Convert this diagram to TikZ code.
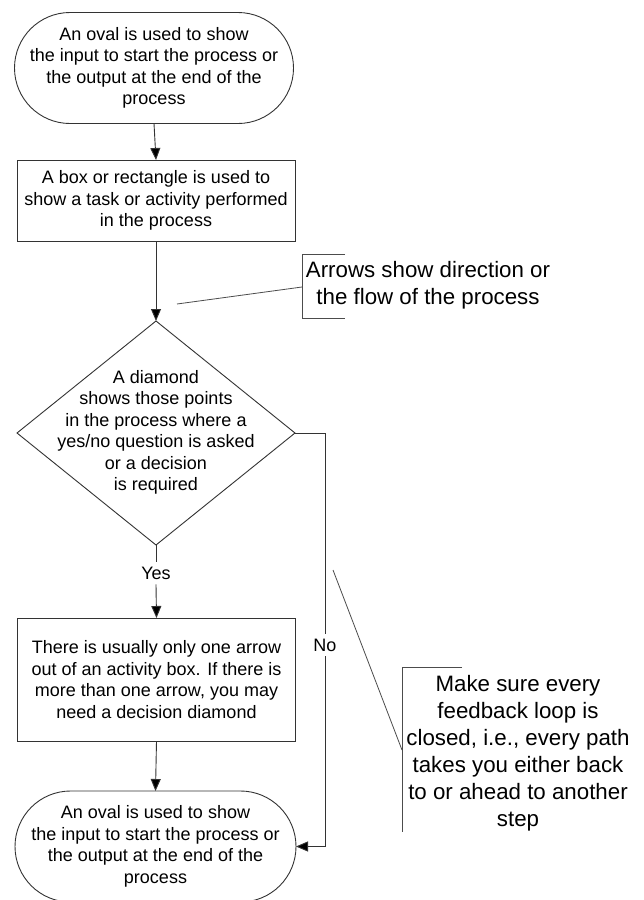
\documentclass[tikz,border=0pt]{standalone}
\usepackage{fontspec}
\setmainfont{Liberation Sans}
\usetikzlibrary{arrows.meta,shapes.misc,shapes.geometric}
\begin{document}
\begin{tikzpicture}[x=1pt,y=-1pt,
  line width=0.9pt,
  every node/.style={inner sep=0pt, outer sep=0pt},
  body/.style={font=\fontsize{18}{21.5}\selectfont, align=center},
  note/.style={font=\fontsize{22.3}{27}\selectfont, align=center},
  terminal/.style={draw=black!80, rounded rectangle, minimum width=279pt, minimum height=111pt},
  process/.style={draw=black!80, rectangle, minimum width=278pt},
  decision/.style={draw=black!80, diamond, minimum width=278pt, minimum height=224pt},
  flow/.style={draw=black!80, -{Triangle[length=12pt,width=10pt,fill=black]}},
  plain/.style={draw=black!80},
  tag/.style={body, fill=white, inner xsep=2pt, inner ysep=5pt},
  bracket/.style={draw=black!70, line width=0.8pt}
]
% page frame
\clip (0,0) rectangle (643,900);
\fill[white] (0,0) rectangle (643,900);

% flowchart symbols
\node[terminal] (o1) at (154,68) {};
\node[body] (o1t) at (o1.center) {An oval is used to show\\the input to start the process or\\the output at the end of the\\process};

\node[process, minimum height=81pt] (b1) at (156,200.5) {};
\node[body] (b1t) at (b1.center) {A box or rectangle is used to\\show a task or activity performed\\in the process};

\node[decision] (d) at (156,433) {};
\node[body] (dt) at (156,432.5) {A diamond\\shows those points\\in the process where a\\yes/no question is asked\\or a decision\\is required};

\node[process, minimum height=123pt] (b2) at (156.5,679.5) {};
\node[body] (b2t) at (b2.center) {There is usually only one arrow\\out of an activity box. If there is\\more than one arrow, you may\\need a decision diamond};

\node[terminal, minimum width=281pt] (o2) at (155.5,846.5) {};
\node[body] (o2t) at (o2.center) {An oval is used to show\\the input to start the process or\\the output at the end of the\\process};

% branch labels
\node[tag] (yes) at (156,573) {Yes};
\node[tag] (no) at (325,645) {No};

% connectors
\draw[flow] (o1.south) -- (b1.north);
\draw[flow] (b1.south) -- (d.north);
\draw[plain] (d.south) -- (yes.north);
\draw[flow] (yes.south) -- (b2.north);
\draw[flow] (b2.south) -- (o2.north);
\draw[plain] (d.east) -| (no.north);
\draw[flow] (no.south) |- (o2.east);

% annotation: arrows
\node[note] (n1) at (428,285.5) {Arrows show direction or\\the flow of the process};
\coordinate (n1a) at (345,254);
\coordinate (n1b) at (302,254);
\coordinate (n1c) at (302,318);
\coordinate (n1d) at (345,318);
\coordinate (n1m) at (302,287);
\coordinate (n1p) at (177,304);
\draw[bracket] (n1a) -- (n1b) -- (n1c) -- (n1d);
\draw[bracket] (n1m) -- (n1p);

% annotation: feedback loops
\node[note] (n2) at (518,753) {Make sure every\\feedback loop is\\closed, i.e., every path\\takes you either back\\to or ahead to another\\step};
\coordinate (n2a) at (462,667);
\coordinate (n2b) at (402,667);
\coordinate (n2c) at (402,832);
\coordinate (n2m) at (402,750);
\coordinate (n2p) at (333,570);
\draw[bracket] (n2a) -- (n2b) -- (n2c);
\draw[bracket] (n2m) -- (n2p);
\end{tikzpicture}
\end{document}
